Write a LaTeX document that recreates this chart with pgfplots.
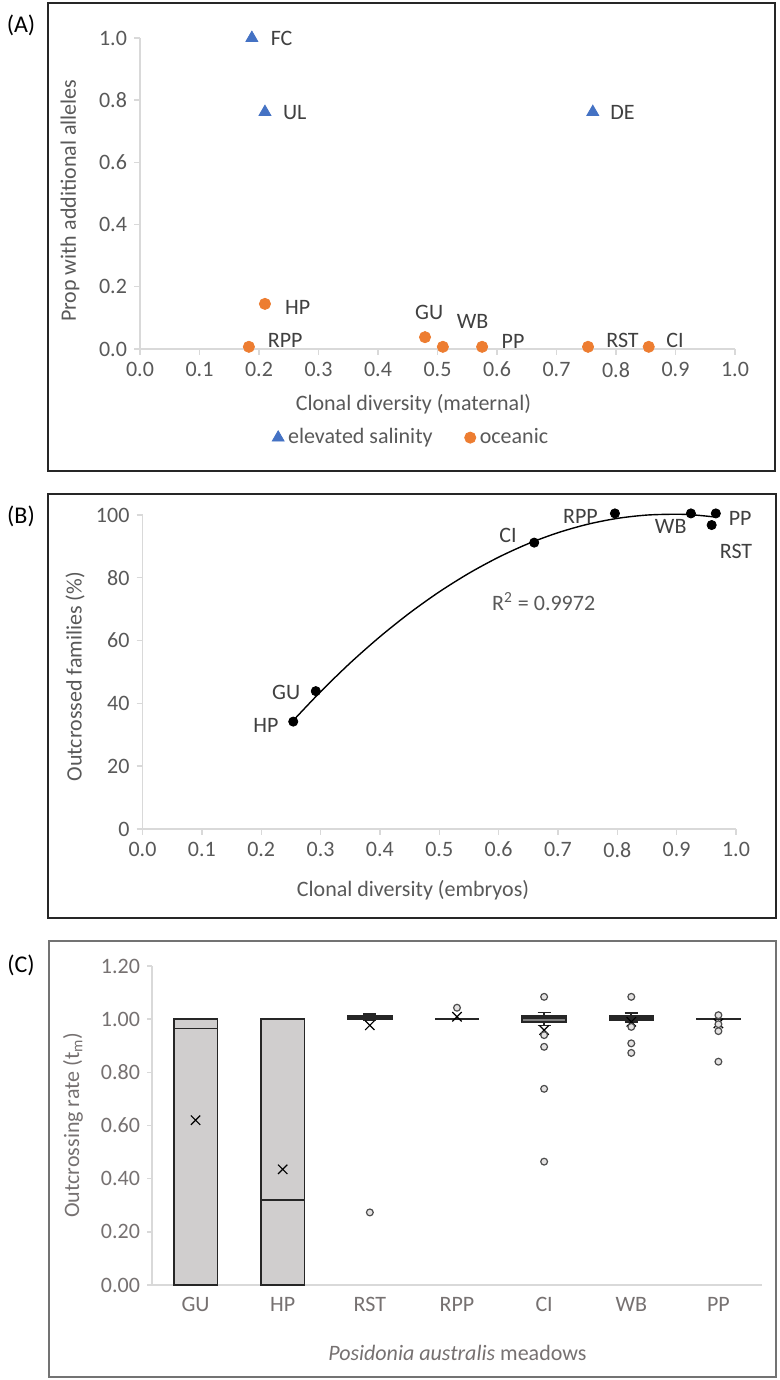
\documentclass[border=0pt]{standalone}
\usepackage{fontspec}
\setmainfont{Carlito}
\usepackage{pgfplots}
\pgfplotsset{compat=1.18}
\usepgfplotslibrary{statistics}
\definecolor{axisgray}{HTML}{D9D9D9}
\definecolor{labgray}{HTML}{595959}
\definecolor{txtdark}{HTML}{404040}
\definecolor{cgray}{HTML}{767171}
\definecolor{boxgray}{HTML}{D0CECE}
\definecolor{outfill}{HTML}{E4E2E2}
\definecolor{eblue}{HTML}{4472C4}
\definecolor{eorange}{HTML}{ED7D31}
\newcommand{\fs}{\fontsize{11}{13.2}\selectfont}
\pgfplotsset{
  common/.style={
    anchor=south west, scale only axis, clip=false,
    axis x line*=bottom, axis y line*=left,
    axis line style={axisgray, line width=0.7pt},
    tick align=outside, major tick length=3pt,
    every tick/.style={axisgray, line width=0.7pt},
    scaled ticks=false,
    /pgf/number format/assume math mode=true,
    tick label style={font=\fs, text=labgray},
  }
}
\begin{document}
\begin{tikzpicture}
\useasboundingbox (0,0) rectangle (390pt,690pt);
\fill[white] (0,0) rectangle (390pt,690pt);
% frames
\draw[line width=0.8pt, black!85] (24pt,454.5pt) rectangle (387.5pt,688.5pt);
\draw[line width=0.8pt, black!85] (24pt,231pt) rectangle (388pt,443pt);
\draw[line width=0.7pt, black!55] (24.5pt,1.5pt) rectangle (388pt,219.5pt);
\node[font=\fontsize{12}{14}\selectfont] at (10.5pt,677.5pt) {(A)};
\node[font=\fontsize{12}{14}\selectfont] at (10.5pt,431.7pt) {(B)};
\node[font=\fontsize{12}{14}\selectfont] at (10.5pt,207.5pt) {(C)};

% ---------- Panel A ----------
\begin{axis}[common,
  at={(70pt,515.5pt)}, width=297.5pt, height=155.5pt,
  xmin=0, xmax=1, ymin=0, ymax=1,
  xtick={0,0.1,0.2,0.3,0.4,0.5,0.6,0.7,0.8,0.9,1},
  ytick={0,0.2,0.4,0.6,0.8,1},
  xticklabel={\pgfmathprintnumber[fixed,fixed zerofill,precision=1]{\tick}},
  yticklabel={\pgfmathprintnumber[fixed,fixed zerofill,precision=1]{\tick}},
  legend style={at={(0.4575,-0.285)}, anchor=center, draw=none, fill=none,
    font=\fs, text=labgray, legend columns=2,
    /tikz/every even column/.append style={column sep=14pt}},
  legend image code/.code={\draw[#1] plot coordinates {(0.08cm,0cm)};},
]
\addplot[only marks, mark=triangle*, mark size=3.4pt, color=eblue]
  coordinates {(0.188,1.0) (0.210,0.762) (0.761,0.762)};
\addlegendentry{elevated salinity}
\addplot[only marks, mark=*, mark size=2.8pt, color=eorange]
  coordinates {(0.210,0.145) (0.183,0.007) (0.479,0.038) (0.509,0.007) (0.575,0.007) (0.753,0.007) (0.855,0.007)};
\addlegendentry{oceanic}
\node[font=\fs, text=txtdark] at (axis cs:0.238,0.997) {FC};
\node[font=\fs, text=txtdark] at (axis cs:0.260,0.761) {UL};
\node[font=\fs, text=txtdark] at (axis cs:0.811,0.761) {DE};
\node[font=\fs, text=txtdark] at (axis cs:0.265,0.134) {HP};
\node[font=\fs, text=txtdark] at (axis cs:0.244,0.029) {RPP};
\node[font=\fs, text=txtdark] at (axis cs:0.486,0.117) {GU};
\node[font=\fs, text=txtdark] at (axis cs:0.559,0.088) {WB};
\node[font=\fs, text=txtdark] at (axis cs:0.627,0.024) {PP};
\node[font=\fs, text=txtdark] at (axis cs:0.811,0.029) {RST};
\node[font=\fs, text=txtdark] at (axis cs:0.899,0.029) {CI};
\end{axis}
\node[font=\fs, text=labgray, rotate=90] at (35pt,589.6pt) {Prop with additional alleles};
\node[font=\fs, text=labgray] at (206.7pt,488pt) {Clonal diversity (maternal)};

% ---------- Panel B ----------
\begin{axis}[common,
  at={(71.25pt,275.5pt)}, width=296.75pt, height=157pt,
  xmin=0, xmax=1, ymin=0, ymax=100,
  xtick={0,0.1,0.2,0.3,0.4,0.5,0.6,0.7,0.8,0.9,1},
  ytick={0,20,40,60,80,100},
  xticklabel={\pgfmathprintnumber[fixed,fixed zerofill,precision=1]{\tick}},
]
\addplot[black, line width=0.7pt, smooth] coordinates {
 (0.254,34.56) (0.30,43.71) (0.35,52.88) (0.40,61.23) (0.45,68.78) (0.50,75.52)
 (0.55,81.44) (0.60,86.56) (0.65,90.87) (0.70,94.36) (0.75,97.05) (0.80,98.92)
 (0.85,99.98) (0.90,100.24) (0.93,100.0) (0.965,99.35)};
\addplot[only marks, mark=*, mark size=2.3pt, black]
  coordinates {(0.254,34.2) (0.292,43.9) (0.660,91.2) (0.796,100.5) (0.924,100.5) (0.966,100.5) (0.959,96.8)};
\node[font=\fs, text=txtdark] at (axis cs:0.208,33.1) {HP};
\node[font=\fs, text=txtdark] at (axis cs:0.242,43.4) {GU};
\node[font=\fs, text=txtdark] at (axis cs:0.616,93.4) {CI};
\node[font=\fs, text=txtdark] at (axis cs:0.738,99.5) {RPP};
\node[font=\fs, text=txtdark] at (axis cs:0.890,96.3) {WB};
\node[font=\fs, text=txtdark] at (axis cs:1.007,98.9) {PP};
\node[font=\fs, text=txtdark] at (axis cs:1.000,88.3) {RST};
\node[font=\fs, text=labgray] at (axis cs:0.676,72.3) {R\textsuperscript{2} = 0.9972};
\end{axis}
\node[font=\fs, text=labgray, rotate=90] at (37.5pt,351.7pt) {Outcrossed families (\%)};
\node[font=\fs, text=labgray] at (206.5pt,245pt) {Clonal diversity (embryos)};

% ---------- Panel C ----------
\begin{axis}[common,
  at={(76pt,47.5pt)}, width=305pt, height=159.5pt,
  xmin=-0.5, xmax=6.5, ymin=0, ymax=1.2,
  xtick={0,1,2,3,4,5,6}, xticklabels={GU,HP,RST,RPP,CI,WB,PP},
  x tick style={draw=none}, major tick length=2.5pt,
  ytick={0,0.2,0.4,0.6,0.8,1,1.2},
  yticklabel={\pgfmathprintnumber[fixed,fixed zerofill,precision=2]{\tick}},
  tick label style={font=\fs, text=cgray},
  boxplot/draw direction=y,
]
\addplot[boxplot prepared={draw position=0, lower whisker=0, lower quartile=0, median=0.965, upper quartile=1.0, upper whisker=1.002, box extend=0.5, whisker extend=0.15}, draw=black!85, fill=boxgray, line width=0.8pt] coordinates {};
\addplot[boxplot prepared={draw position=1, lower whisker=0, lower quartile=0, median=0.32, upper quartile=1.0, upper whisker=1.0, box extend=0.5, whisker extend=0.15}, draw=black!85, fill=boxgray, line width=0.8pt] coordinates {};
\addplot[boxplot prepared={draw position=2, lower whisker=0.996, lower quartile=1.0, median=1.006, upper quartile=1.012, upper whisker=1.02, box extend=0.5, whisker extend=0.15}, draw=black!85, fill=boxgray, line width=0.9pt] coordinates {};
\addplot[boxplot prepared={draw position=3, lower whisker=1.0, lower quartile=1.0, median=1.0, upper quartile=1.0, upper whisker=1.0, box extend=0.5, whisker extend=0.15}, draw=black!85, fill=boxgray, line width=0.8pt] coordinates {};
\addplot[boxplot prepared={draw position=4, lower whisker=0.976, lower quartile=0.99, median=1.003, upper quartile=1.013, upper whisker=1.025, box extend=0.5, whisker extend=0.15}, draw=black!85, fill=gray, line width=0.9pt] coordinates {};
\addplot[boxplot prepared={draw position=5, lower whisker=0.99, lower quartile=0.998, median=1.005, upper quartile=1.012, upper whisker=1.022, box extend=0.5, whisker extend=0.15}, draw=black!85, fill=boxgray, line width=0.9pt] coordinates {};
\addplot[boxplot prepared={draw position=6, lower whisker=0.998, lower quartile=0.999, median=1.0, upper quartile=1.002, upper whisker=1.003, box extend=0.5, whisker extend=0.15}, draw=black!85, fill=boxgray, line width=0.8pt] coordinates {};
% means
\addplot[only marks, mark=x, mark size=3.3pt, black, line width=0.6pt]
  coordinates {(0,0.62) (1,0.435) (2,0.977) (3,1.009) (4,0.959) (5,0.99) (6,0.984)};
% outliers
\addplot[only marks, mark=*, mark size=1.7pt, draw=black!70, fill=outfill, line width=0.6pt]
  coordinates {(2,0.273) (3,1.043) (4,1.084) (4,0.94) (4,0.896) (4,0.738) (4,0.464)
   (5,1.084) (5,0.971) (5,0.909) (5,0.873) (6,1.015) (6,0.981) (6,0.955) (6,0.84)};
\end{axis}
\node[font=\fs, text=cgray, rotate=90] at (36.5pt,127.5pt) {Outcrossing rate (t\textsubscript{m})};
\node[font=\fs, text=cgray] at (228.7pt,13.7pt) {\textit{Posidonia australis} meadows};
\end{tikzpicture}
\end{document}
